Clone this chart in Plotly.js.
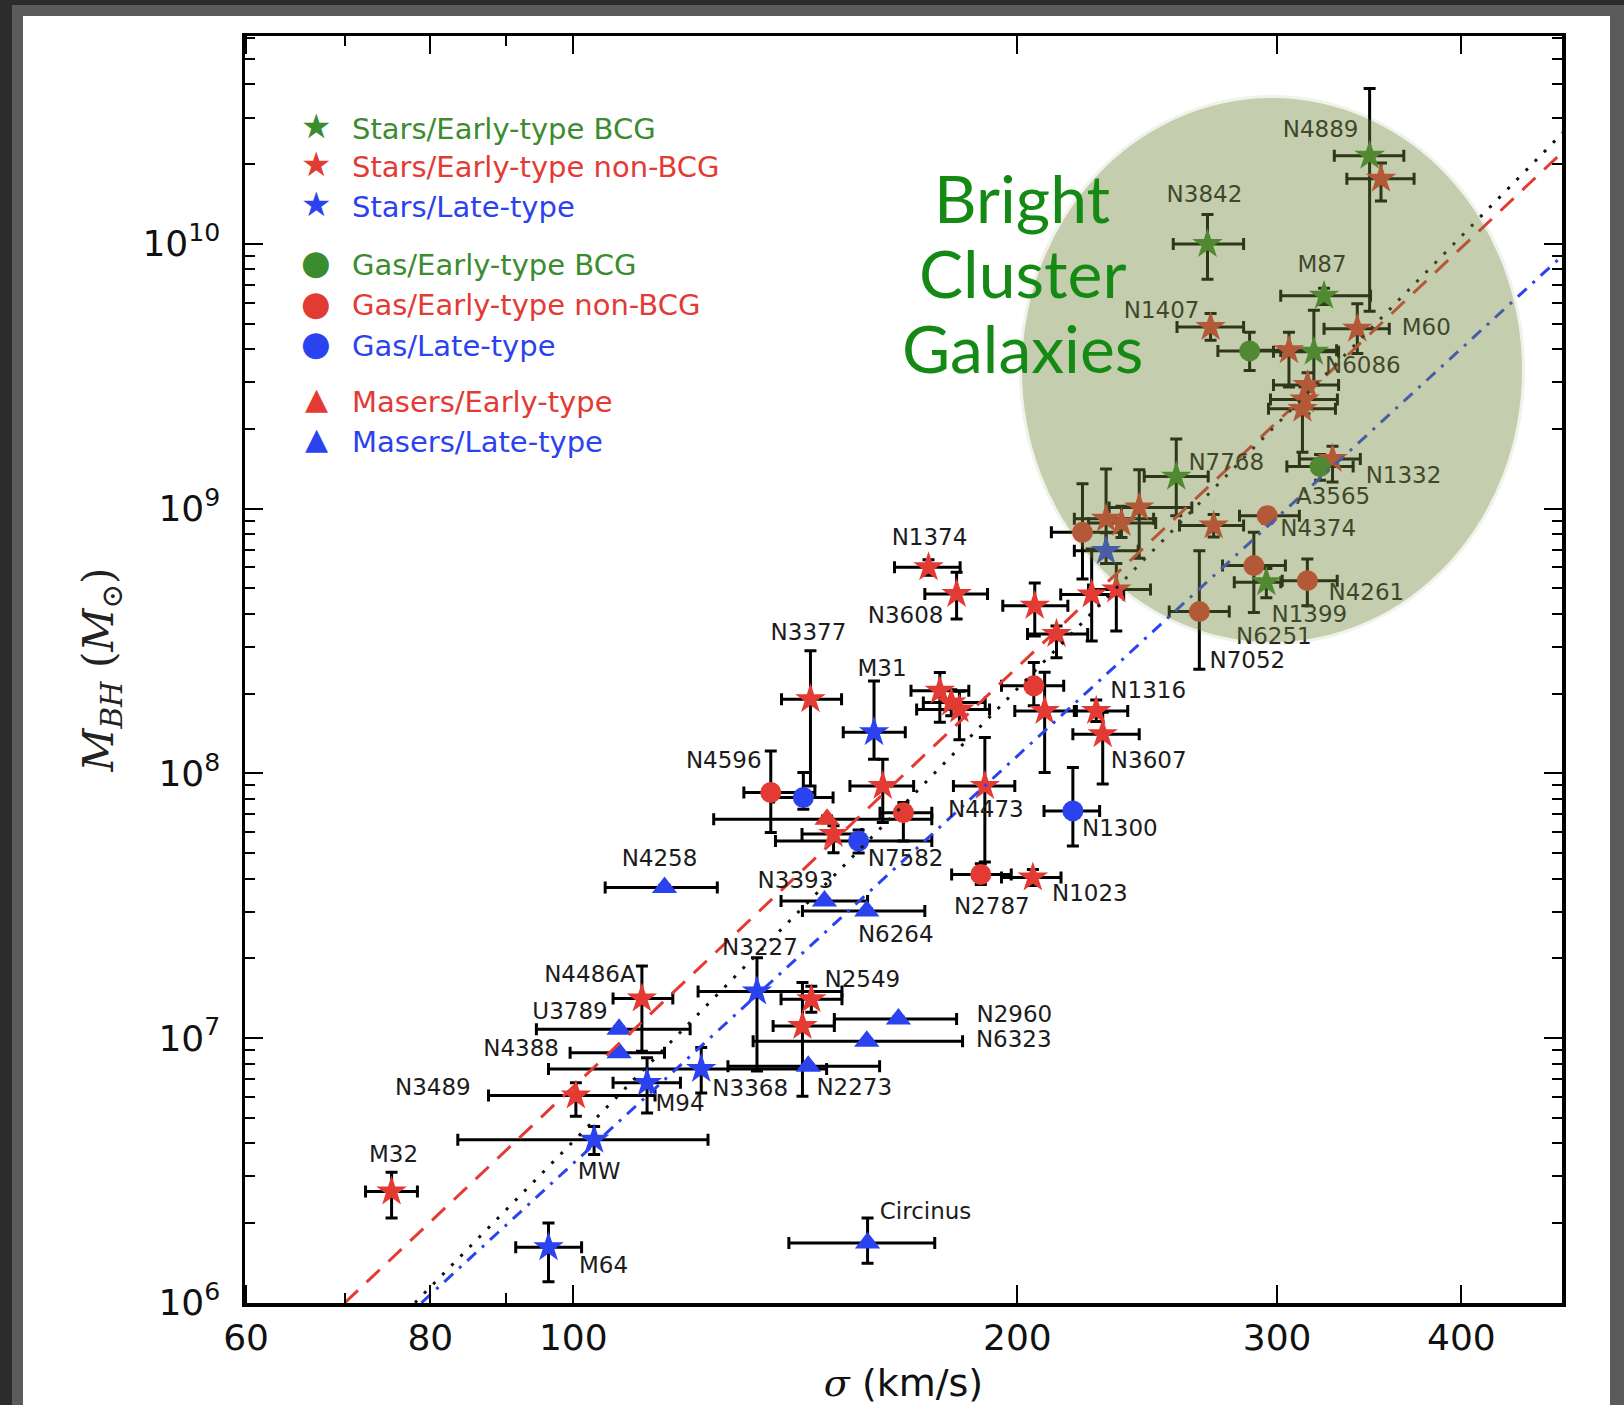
<!DOCTYPE html>
<html><head><meta charset="utf-8">
<script src="https://cdn.plot.ly/plotly-3.0.1.min.js"></script>
<style>
html,body{margin:0;padding:0;background:#2c2c2c;width:1624px;height:1405px;overflow:hidden}
#grey{position:absolute;left:12px;top:5px;right:0;bottom:0;background:#5b5b5b}
#white{position:absolute;left:23px;top:16px;right:14px;bottom:0;background:#fff}
#chart{position:absolute;left:0;top:0;width:1624px;height:1405px}
</style></head><body>
<div id="grey"></div><div id="white"></div><div id="chart"></div>
<script>
// ---------------- data (sigma in km/s, M_BH in solar masses) ----------------
// Stars / Early-type BCG
const sbName  = ['N4889','N3842','M87','N6086','N7768','N1399'];
const sbSig   = [346.6, 269.1, 322.8, 317.7, 256.3, 295.0];
const sbSigLo = [328.0, 255.1, 301.7, 298.3, 243.8, 280.6];
const sbSigHi = [365.6, 284.7, 347.1, 330.2, 269.4, 301.7];
const sbM     = [2.15e10, 9.98e9, 6.36e9, 3.91e9, 1.32e9, 5.27e8];
const sbMLo   = [5.56e9, 7.35e9, 5.90e9, 2.93e9, 9.4e8, 4.6e8];
const sbMHi   = [3.86e10, 1.29e10, 6.8e9, 5.61e9, 1.83e9, 5.93e8];

// Stars / Early-type non-BCG
const snName  = ['', 'N1407','M60','','','','','N1332','','','','','','','','','N1374','N3608','N3377','','','','','N1316','N3607','N4473','','','N1023','N2549','','N4486A','N3489','M32'];
const snSig   = [352.8,270.4,340.0,305.6,314.6,313.1,312.1,327.1,271.7,229.7,235.3,241.9,224.6,233.4,205.5,212.6,174.1,181.9,144.8,177.2,180.4,182.7,208.7,226.2,228.5,190.1,162.1,150.1,204.9,145.0,143.0,111.3,100.4,75.3];
const snSigLo = [334.5,256.6,322.8,290.2,298.3,296.9,296.0,310.6,257.6,218.6,223.5,230.8,214.0,223.5,195.5,203.2,165.1,173.1,138.4,169.4,172.7,170.9,199.2,218.6,218.1,181.0,154.0,142.9,195.1,138.3,136.6,106.4,87.6,72.3];
const snSigHi = [371.5,284.7,357.4,329.2,330.2,329.6,328.6,341.6,284.7,247.4,248.2,262.6,236.1,246.2,216.4,223.2,182.9,190.9,152.0,185.4,190.2,191.5,219.3,237.6,241.9,199.2,170.1,156.9,214.1,152.1,150.3,116.8,113.6,78.4];
const snM     = [1.76e10,4.85e9,4.78e9,3.96e9,2.93e9,2.58e9,2.38e9,1.54e9,8.63e8,9.15e8,8.82e8,1.01e9,4.74e8,4.95e8,4.29e8,3.36e8,6.0e8,4.76e8,1.905e8,2.05e8,1.85e8,1.74e8,1.72e8,1.72e8,1.405e8,8.96e7,8.96e7,5.9e7,4.04e7,1.4e7,1.11e7,1.41e7,6.06e6,2.63e6];
const snMLo   = [1.45e10,4.32e9,3.85e9,2.88e9,2.6e9,2.28e9,1.63e9,1.26e9,7.8e8,7.04e8,7.78e8,6.49e8,3.16e8,3.45e8,3.3e8,2.73e8,5.6e8,3.83e8,8.96e7,1.56e8,1.65e8,1.34e8,1.007e8,1.57e8,9.1e7,4.62e7,6.52e7,5.01e7,3.77e7,1.25e7,6.02e6,8.92e6,5.06e6,2.09e6];
const snMHi   = [2.02e10,5.46e9,5.94e9,4.63e9,3.26e9,2.88e9,2.6e9,1.72e9,9.5e8,1.41e9,1.02e9,1.4e9,7.04e8,6.2e8,5.23e8,3.6e8,6.4e8,5.74e8,2.9e8,2.4e8,2.07e8,2.04e8,2.41e8,1.89e8,1.7e8,1.365e8,1.13e8,6.34e7,4.33e7,1.57e7,1.62e7,1.87e7,6.77e6,3.11e6];

// Stars / Late-type
const slName  = ['','M31','N3227','N3368','M94','MW','M64'];
const slSig   = [229.7,159.9,133.2,122.1,112.2,103.3,96.2];
const slSigLo = [218.6,152.4,121.5,96.2,106.4,83.5,91.4];
const slSigHi = [241.5,167.9,152.1,148.5,118.2,123.4,101.3];
const slM     = [6.92e8,1.43e8,1.5e7,7.64e6,6.77e6,4.13e6,1.62e6];
const slMLo   = [6.2e8,1.13e8,7.5e6,6.2e6,5.21e6,3.63e6,1.2e6];
const slMHi   = [8.1e8,2.23e8,2.01e7,9.2e6,8.42e6,4.63e6,2.0e6];

// Gas / Early-type BCG
const gbName  = ['','A3565'];
const gbSig   = [287.4,320.8];
const gbSigLo = [273.5,304.6];
const gbSigHi = [301.7,337.8];
const gbM     = [3.94e9,1.44e9];
const gbMLo   = [3.32e9,1.28e9];
const gbMHi   = [4.63e9,1.6e9];

// Gas / Early-type non-BCG
const gnName  = ['N4374','N6251','N4261','N7052','','','N4596','','N2787'];
const gnSig   = [295.4,289.3,314.5,265.7,221.4,205.2,136.1,167.4,188.9];
const gnSigLo = [282.9,275.5,302.4,253.5,210.9,195.1,130.5,161.4,180.5];
const gnSigHi = [310.6,303.9,329.5,278.4,234.6,215.0,145.8,175.0,198.1];
const gnM     = [9.4e8,6.09e8,5.34e8,4.08e8,8.13e8,2.14e8,8.46e7,7.1e7,4.15e7];
const gnMLo   = [8.8e8,4.05e8,4.29e8,2.47e8,5.42e8,1.8e8,5.97e7,5.55e7,3.8e7];
const gnMHi   = [1.0e9,8.13e8,6.45e8,6.93e8,1.24e9,2.62e8,1.215e8,7.75e7,4.55e7];

// Gas / Late-type
const glName  = ['','N7582','N1300'];
const glSig   = [143.2,156.1,218.1];
const glSigLo = [136.7,137.1,208.5];
const glSigHi = [150.0,175.0,227.4];
const glM     = [8.1e7,5.55e7,7.21e7];
const glMLo   = [7.32e7,5.0e7,5.31e7];
const glMHi   = [1.007e8,6.1e7,1.052e8];

// Masers / Early-type
const meName  = [''];
const meSig   = [148.6];
const meSigLo = [124.5];
const meSigHi = [175.0];
const meM     = [6.71e7];
const meMLo   = [6.5e7];
const meMHi   = [6.9e7];

// Masers / Late-type
const mlName  = ['N4258','N3393','N6264','N2960','N6323','N2273','U3789','N4388','Circinus'];
const mlSig   = [115.3,148.0,158.1,166.1,158.1,144.3,107.4,107.4,158.3];
const mlSigLo = [105.1,138.3,143.0,150.3,132.4,127.3,94.4,99.5,140.0];
const mlSigHi = [125.2,158.3,173.1,181.9,183.6,161.3,120.0,115.3,175.8];
const mlM     = [3.7e7,3.29e7,3.02e7,1.18e7,9.72e6,7.83e6,1.08e7,8.79e6,1.68e6];
const mlMLo   = [3.62e7,3.22e7,2.96e7,1.16e7,9.55e6,7.7e6,1.06e7,8.65e6,1.41e6];
const mlMHi   = [3.78e7,3.36e7,3.08e7,1.2e7,9.9e6,7.96e6,1.1e7,8.93e6,2.09e6];

// Fit lines (end points)
const fitEarlySig = [70.0, 470];   const fitEarlyM = [1.0e6, 2.26e10];
const fitAllSig   = [78.1, 470];   const fitAllM   = [1.0e6, 2.67e10];
const fitLateSig  = [78.9, 470];   const fitLateM  = [1.0e6, 9.18e9];

// Legend entries
const legendText = ['Stars/Early-type BCG','Stars/Early-type non-BCG','Stars/Late-type',
                    'Gas/Early-type BCG','Gas/Early-type non-BCG','Gas/Late-type',
                    'Masers/Early-type','Masers/Late-type'];

// Axis ticks
const xTickVals = [60, 80, 100, 200, 300, 400];
const xTickText = ['60','80','100','200','300','400'];
const xMinorVals = [70, 90];
const yTickVals = [1e6, 1e7, 1e8, 1e9, 1e10];
const yTickText = ['10<sup>6</sup>','10<sup>7</sup>','10<sup>8</sup>','10<sup>9</sup>','10<sup>10</sup>'];

// ---------------- styling / layout ----------------
const GREEN = '#3b8c2e', RED = '#e33b34', BLUE = '#2b43ee';
const W = 1624, H = 1405;
const M = {l: 245, r: 62, t: 36, b: 102};
const xr = [Math.log10(59.9), Math.log10(468)];
const yr = [5.999, 10.785];
const pxDecX = (W - M.l - M.r) / (xr[1] - xr[0]);
const pxDecY = (H - M.t - M.b) / (yr[1] - yr[0]);

// label offsets (px, screen: +x right, +y down) relative to the point
const labelOffsets = {
  'N4889':[-49,-25],'N3842':[-3,-48],'M87':[-2,-30],'N6086':[49,15],'N7768':[50,-12],'N1399':[43,34],
  'A3565':[13,32],'N1407':[-49,-15],'M60':[69,1],'N1332':[71,18],'N1374':[1,-28],'N3608':[-51,23],
  'N3377':[-2,-65],'N1316':[52,-19],'N3607':[46,28],'N4473':[1,25],'N1023':[57,18],'N2549':[51,-18],
  'N4486A':[-52,-22],'N3489':[-143,-6],'M32':[2,-35],'N4374':[51,15],'N6251':[20,73],'N4261':[59,14],
  'N7052':[48,51],'N4596':[-47,-30],'N2787':[11,34],'M31':[8,-62],'N3227':[3,-42],'N3368':[49,21],
  'M94':[33,22],'MW':[5,34],'M64':[55,20],'N7582':[47,19],'N1300':[47,19],'N4258':[-5,-27],
  'N3393':[-29,-19],'N6264':[29,25],'N2960':[116,-3],'N6323':[147,0],'N2273':[46,23],'U3789':[-49,-16],
  'N4388':[-98,-3],'Circinus':[58,-30]
};

const cats = [
  {name:sbName, s:sbSig, sl:sbSigLo, sh:sbSigHi, m:sbM, ml:sbMLo, mh:sbMHi, sym:'star', size:23, col:GREEN},
  {name:snName, s:snSig, sl:snSigLo, sh:snSigHi, m:snM, ml:snMLo, mh:snMHi, sym:'star', size:23, col:RED},
  {name:slName, s:slSig, sl:slSigLo, sh:slSigHi, m:slM, ml:slMLo, mh:slMHi, sym:'star', size:23, col:BLUE},
  {name:gbName, s:gbSig, sl:gbSigLo, sh:gbSigHi, m:gbM, ml:gbMLo, mh:gbMHi, sym:'circle', size:21, col:GREEN},
  {name:gnName, s:gnSig, sl:gnSigLo, sh:gnSigHi, m:gnM, ml:gnMLo, mh:gnMHi, sym:'circle', size:21, col:RED},
  {name:glName, s:glSig, sl:glSigLo, sh:glSigHi, m:glM, ml:glMLo, mh:glMHi, sym:'circle', size:21, col:BLUE},
  {name:meName, s:meSig, sl:meSigLo, sh:meSigHi, m:meM, ml:meMLo, mh:meMHi, sym:'triangle-up', size:22, col:RED},
  {name:mlName, s:mlSig, sl:mlSigLo, sh:mlSigHi, m:mlM, ml:mlMLo, mh:mlMHi, sym:'triangle-up', size:22, col:BLUE}
];

const traces = [];
// error bars first (under every marker)
cats.forEach(c => {
  traces.push({
    type:'scatter', mode:'markers', x:c.s, y:c.m, hoverinfo:'skip', showlegend:false,
    marker:{size:1, color:'rgba(0,0,0,0)'},
    error_x:{type:'data', symmetric:false, array:c.sh.map((v,i)=>v-c.s[i]), arrayminus:c.s.map((v,i)=>v-c.sl[i]),
             color:'#000', thickness:3, width:6},
    error_y:{type:'data', symmetric:false, array:c.mh.map((v,i)=>v-c.m[i]), arrayminus:c.m.map((v,i)=>v-c.ml[i]),
             color:'#000', thickness:3, width:6}
  });
});
// markers
cats.forEach(c => {
  traces.push({type:'scatter', mode:'markers', x:c.s, y:c.m, hoverinfo:'skip', showlegend:false,
    marker:{symbol:c.sym, size:c.size, color:c.col, line:{width:0}}});
});
// fit lines
traces.push({type:'scatter', mode:'lines', x:fitEarlySig, y:fitEarlyM, showlegend:false, hoverinfo:'skip',
  line:{color:RED, width:3, dash:'18px,12px'}});
traces.push({type:'scatter', mode:'lines', x:fitAllSig, y:fitAllM, showlegend:false, hoverinfo:'skip',
  line:{color:'#111', width:3, dash:'3px,10px'}});
traces.push({type:'scatter', mode:'lines', x:fitLateSig, y:fitLateM, showlegend:false, hoverinfo:'skip',
  line:{color:BLUE, width:3, dash:'12px,8px,3px,8px'}});
// galaxy name labels (text trace, so the cluster overlay tints them)
const lx = [], ly = [], lt = [];
cats.forEach(c => c.name.forEach((n,i) => {
  if (!n) return;
  const o = labelOffsets[n] || [0,0];
  lx.push(Math.pow(10, Math.log10(c.s[i]) + o[0]/pxDecX));
  ly.push(Math.pow(10, Math.log10(c.m[i]) - o[1]/pxDecY));
  lt.push(n);
}));
traces.push({type:'scatter', mode:'text', x:lx, y:ly, text:lt, textposition:'middle center', hoverinfo:'skip',
  showlegend:false, cliponaxis:false, textfont:{family:'DejaVu Sans', size:23, color:'#1c1c1c'}});

// legend (drawn as annotations)
const legCol = [GREEN, RED, BLUE, GREEN, RED, BLUE, RED, BLUE];
const legGlyph = ['★','★','★','●','●','●','▲','▲'];
const legGlyphSize = [34,34,34,34,34,34,30,30];
const legRowPx = [128.5, 167.5, 207, 265, 305.5, 346.5, 401.5, 441.5];
const toPX = px => (px - M.l) / (W - M.l - M.r);
const toPY = py => (H - M.b - py) / (H - M.t - M.b);
const ann = [];
legendText.forEach((t,i) => {
  ann.push({xref:'paper', yref:'paper', x:toPX(350), y:toPY(legRowPx[i]), xanchor:'left', yanchor:'middle',
    text:t, showarrow:false, font:{family:'DejaVu Sans', size:29, color:legCol[i]}});
  ann.push({xref:'paper', yref:'paper', x:toPX(316), y:toPY(legRowPx[i]-3), xanchor:'center', yanchor:'middle',
    text:legGlyph[i], showarrow:false, font:{family:'DejaVu Sans', size:legGlyphSize[i], color:legCol[i]}});
});
['Bright','Cluster','Galaxies'].forEach((t,i) => {
  ann.push({xref:'paper', yref:'paper', x:toPX(1022), y:toPY([197, 272, 347][i]), xanchor:'center', yanchor:'middle',
    text:t, showarrow:false, font:{family:'Lato', size:66, color:'#148a14'}});
});

const yMinor = [];
for (let e = 6; e <= 10; e++) for (let d = 2; d <= 9; d++) { const v = d*Math.pow(10,e); if (Math.log10(v) < yr[1]) yMinor.push(v); }

const axisCommon = {showline:true, linecolor:'#000', linewidth:3.5, mirror:'allticks', ticks:'inside',
  ticklen:18, tickwidth:2, tickcolor:'#000', showgrid:false, zeroline:false,
  tickfont:{family:'DejaVu Sans', size:36, color:'#111'}};

const layout = {
  width:W, height:H, margin:M, paper_bgcolor:'rgba(0,0,0,0)', plot_bgcolor:'rgba(0,0,0,0)',
  showlegend:false,
  xaxis:Object.assign({}, axisCommon, {type:'log', range:xr, tickmode:'array', tickvals:xTickVals, ticktext:xTickText,
    minor:{tickmode:'array', tickvals:xMinorVals, ticks:'inside', ticklen:10, tickwidth:2, tickcolor:'#000'},
    ticklabelstandoff:0,
    title:{text:'<span style="font-family:DejaVu Serif"><i>σ</i></span> (km/s)', standoff:22,
      font:{family:'DejaVu Sans', size:38, color:'#111'}}}),
  yaxis:Object.assign({}, axisCommon, {type:'log', range:yr, tickmode:'array', tickvals:yTickVals, ticktext:yTickText,
    minor:{tickmode:'array', tickvals:yMinor, ticks:'inside', ticklen:10, tickwidth:2, tickcolor:'#000'},
    ticklabelstandoff:14,
    title:{text:'<i>M</i><sub><i>BH</i></sub> (<i>M</i><sub>⊙</sub>)', standoff:16,
      font:{family:'DejaVu Serif', size:42, color:'#222'}}}),
  shapes:[
    {type:'circle', xref:'paper', yref:'paper', layer:'above',
     x0:toPX(1019), x1:toPX(1525), y0:toPY(645), y1:toPY(95), fillcolor:'rgb(114,133,61)', opacity:0.1, line:{width:0}},
    {type:'circle', xref:'paper', yref:'paper', layer:'above',
     x0:toPX(1022), x1:toPX(1522), y0:toPY(642), y1:toPY(98), fillcolor:'rgb(114,133,61)', opacity:0.345, line:{width:0}}
  ],
  annotations:ann
};

Plotly.newPlot('chart', traces, layout, {staticPlot:true, displayModeBar:false});
</script></body></html>
